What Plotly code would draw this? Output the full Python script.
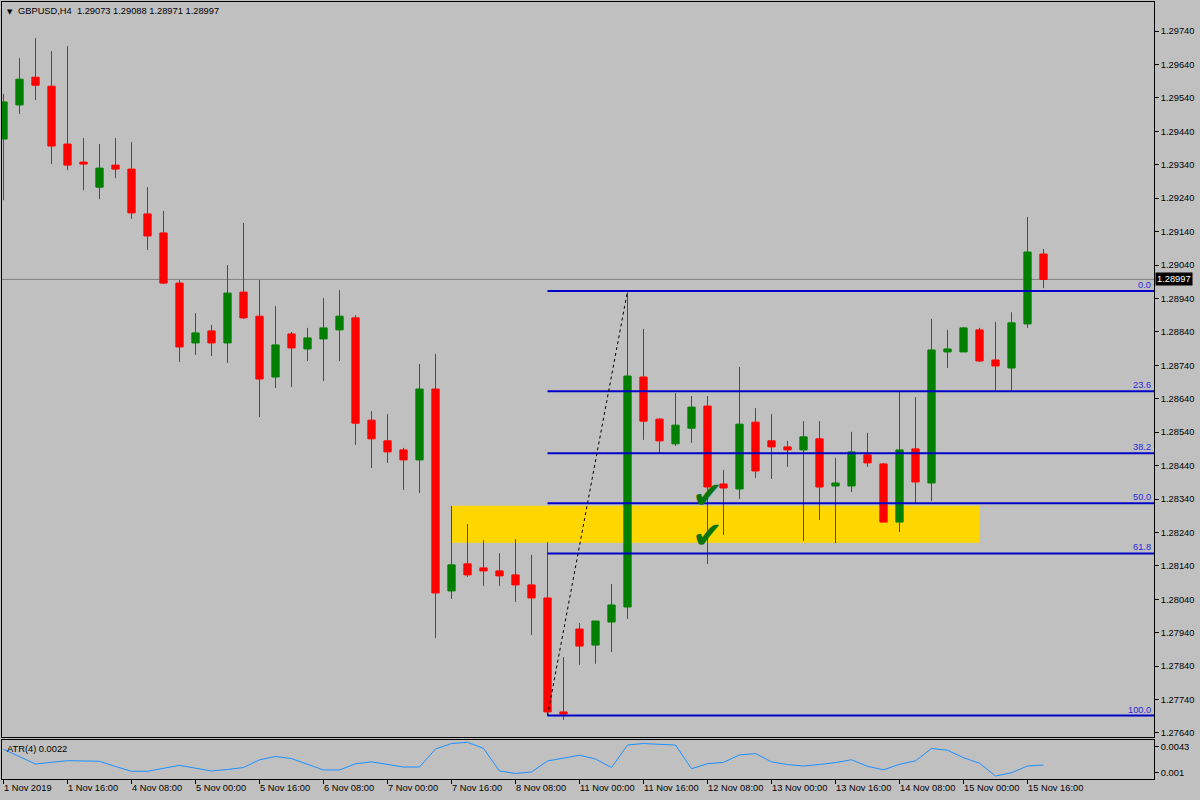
import plotly.graph_objects as go

# ---------------- data ----------------
bars = list(range(66))
opens = [1.29417, 1.29519, 1.29602, 1.29575, 1.29402, 1.29348, 1.29273, 1.29339, 1.29327, 1.29193,
         1.29136, 1.28986, 1.28807, 1.28843, 1.28807, 1.28959, 1.28887, 1.28705, 1.28834, 1.28789,
         1.28819, 1.28846, 1.28882, 1.28576, 1.28514, 1.28487, 1.28457, 1.28669, 1.28065, 1.28146,
         1.28134, 1.28125, 1.28113, 1.28083, 1.28044, 1.27703, 1.27951, 1.27903, 1.27972, 1.28017,
         1.28705, 1.28579, 1.28505, 1.28552, 1.28618, 1.28385, 1.28370, 1.28570, 1.28514, 1.28496,
         1.28487, 1.28520, 1.28379, 1.28379, 1.28472, 1.28445, 1.28271, 1.28490, 1.28388, 1.28780,
         1.28780, 1.28846, 1.28756, 1.28732, 1.28864, 1.29073]
highs = [1.29552, 1.29659, 1.29719, 1.29680, 1.29695, 1.29420, 1.29402, 1.29420, 1.29408, 1.29273,
         1.29202, 1.28995, 1.28896, 1.28861, 1.29040, 1.29166, 1.28995, 1.28917, 1.28840, 1.28852,
         1.28941, 1.28965, 1.28890, 1.28603, 1.28594, 1.28493, 1.28744, 1.28774, 1.28319, 1.28265,
         1.28217, 1.28178, 1.28220, 1.28173, 1.28211, 1.27867, 1.27969, 1.27975, 1.28086, 1.28962,
         1.28849, 1.28582, 1.28657, 1.28648, 1.28648, 1.28427, 1.28735, 1.28612, 1.28594, 1.28514,
         1.28573, 1.28573, 1.28463, 1.28541, 1.28538, 1.28448, 1.28663, 1.28645, 1.28879, 1.28846,
         1.28855, 1.28852, 1.28870, 1.28899, 1.29184, 1.29088]
lows = [1.29234, 1.29492, 1.29534, 1.29342, 1.29324, 1.29264, 1.29237, 1.29300, 1.29178, 1.29085,
        1.28983, 1.28750, 1.28771, 1.28768, 1.28747, 1.28879, 1.28585, 1.28672, 1.28675, 1.28753,
        1.28693, 1.28753, 1.28502, 1.28433, 1.28448, 1.28367, 1.28358, 1.27924, 1.28041, 1.28107,
        1.28080, 1.28080, 1.28032, 1.27933, 1.27692, 1.27679, 1.27844, 1.27847, 1.27882, 1.27981,
        1.28517, 1.28478, 1.28499, 1.28508, 1.28146, 1.28232, 1.28340, 1.28403, 1.28400, 1.28436,
        1.28214, 1.28277, 1.28208, 1.28361, 1.28436, 1.28271, 1.28241, 1.28328, 1.28334, 1.28732,
        1.28780, 1.28750, 1.28666, 1.28666, 1.28852, 1.28971]
closes = [1.29528, 1.29596, 1.29578, 1.29396, 1.29339, 1.29342, 1.29330, 1.29327, 1.29196, 1.29127,
          1.28986, 1.28795, 1.28837, 1.28807, 1.28956, 1.28882, 1.28699, 1.28801, 1.28792, 1.28822,
          1.28852, 1.28887, 1.28567, 1.28520, 1.28481, 1.28457, 1.28669, 1.28059, 1.28143, 1.28113,
          1.28125, 1.28110, 1.28083, 1.28044, 1.27703, 1.27697, 1.27900, 1.27975, 1.28023, 1.28708,
          1.28573, 1.28514, 1.28561, 1.28615, 1.28376, 1.28373, 1.28564, 1.28424, 1.28496, 1.28487,
          1.28526, 1.28376, 1.28388, 1.28481, 1.28448, 1.28271, 1.28487, 1.28391, 1.28786, 1.28789,
          1.28852, 1.28753, 1.28738, 1.28867, 1.29079, 1.28997]
atr = [0.00397, 0.00300, 0.00207, 0.00229, 0.00250, 0.00246, 0.00242, 0.00175, 0.00113, 0.00113,
       0.00149, 0.00190, 0.00153, 0.00117, 0.00136, 0.00162, 0.00261, 0.00304, 0.00277, 0.00207,
       0.00130, 0.00130, 0.00210, 0.00235, 0.00201, 0.00168, 0.00168, 0.00400, 0.00471, 0.00487,
       0.00409, 0.00117, 0.00085, 0.00104, 0.00246, 0.00280, 0.00320, 0.00271, 0.00162, 0.00452,
       0.00471, 0.00460, 0.00452, 0.00146, 0.00211, 0.00228, 0.00324, 0.00341, 0.00235, 0.00199,
       0.00181, 0.00201, 0.00225, 0.00262, 0.00177, 0.00132, 0.00203, 0.00248, 0.00407, 0.00384,
       0.00288, 0.00217, 0.00052, 0.00094, 0.00181, 0.00194]

date_label_bars = [0, 4, 8, 12, 16, 20, 24, 28, 32, 36, 40, 44, 48, 52, 56, 60, 64]
date_labels = ["1 Nov 2019", "1 Nov 16:00", "4 Nov 08:00", "5 Nov 00:00", "5 Nov 16:00",
               "6 Nov 08:00", "7 Nov 00:00", "7 Nov 16:00", "8 Nov 08:00", "11 Nov 00:00",
               "11 Nov 16:00", "12 Nov 08:00", "13 Nov 00:00", "13 Nov 16:00", "14 Nov 08:00",
               "15 Nov 00:00", "15 Nov 16:00"]
price_ticks = [1.27640, 1.27740, 1.27840, 1.27940, 1.28040, 1.28140, 1.28240, 1.28340,
               1.28440, 1.28540, 1.28640, 1.28740, 1.28840, 1.28940, 1.29040, 1.29140,
               1.29240, 1.29340, 1.29440, 1.29540, 1.29640, 1.29740]
atr_ticks = [0.001, 0.0043]
atr_tick_text = ["0.001", "0.0043"]

fib_levels = [0.0, 23.6, 38.2, 50.0, 61.8, 100.0]
fib_high = 1.28962
fib_low = 1.27692
fib_start_bar = 34
fib_high_bar = 39
zone_top = 1.28320
zone_bottom = 1.28209
zone_start_bar = 28
zone_end_bar = 61
check_bar = 44
check_prices = [1.28350, 1.28230]
last_price = 1.28997
symbol_title = "GBPUSD,H4\u00a0\u00a01.29073 1.29088 1.28971 1.28997"
atr_title = "ATR(4) 0.0022"

# ---------------- style ----------------
BG = "#c0c0c0"
GREEN = "#008000"
RED = "#ff0000"
FIB_BLUE = "#0000c8"
FONT = "Liberation Sans"
FS = 9.3
X_MIN, X_MAX = -0.094, 71.906

fig = go.Figure()
fig.add_trace(go.Candlestick(
    x=bars, open=opens, high=highs, low=lows, close=closes,
    increasing=dict(line=dict(color=GREEN, width=1), fillcolor=GREEN),
    decreasing=dict(line=dict(color=RED, width=1), fillcolor=RED),
    whiskerwidth=0, xaxis="x", yaxis="y", showlegend=False, hoverinfo="skip"))
fig.add_trace(go.Scatter(
    x=bars, y=atr, mode="lines", line=dict(color="#1e90ff", width=1),
    xaxis="x2", yaxis="y2", showlegend=False, hoverinfo="skip"))

shapes = []
# current price line
shapes.append(dict(type="line", xref="paper", yref="y", x0=0, x1=1,
                   y0=last_price, y1=last_price, line=dict(color="#808080", width=1),
                   layer="below"))
# yellow zone
shapes.append(dict(type="rect", xref="x", yref="y", x0=zone_start_bar, x1=zone_end_bar,
                   y0=zone_bottom, y1=zone_top, fillcolor="#ffd700",
                   line=dict(width=0), layer="below"))
# fib levels
annotations = []
for lvl in fib_levels:
    p = fib_high - lvl / 100.0 * (fib_high - fib_low)
    shapes.append(dict(type="line", xref="x", yref="y", x0=fib_start_bar, x1=X_MAX,
                       y0=p, y1=p, line=dict(color=FIB_BLUE, width=2), layer="above"))
    annotations.append(dict(xref="paper", yref="y", x=1, y=p, xanchor="right",
                            yanchor="bottom", xshift=-1, yshift=-1, showarrow=False,
                            text=f"{lvl:.1f}",
                            font=dict(family=FONT, size=FS, color="#2828dc")))
# dotted trend line
shapes.append(dict(type="line", xref="x", yref="y", x0=fib_start_bar, y0=fib_low,
                   x1=fib_high_bar, y1=fib_high,
                   line=dict(color="black", width=1, dash="dot"), layer="above"))

# check marks
for cp in check_prices:
    annotations.append(dict(xref="x", yref="y", x=check_bar, y=cp, text="\u2714",
                            showarrow=False, font=dict(family="DejaVu Sans", size=37,
                                                       color="#0a760a")))
# current price box
annotations.append(dict(xref="paper", yref="y", x=1, y=last_price, xanchor="left",
                        xshift=1, showarrow=False, text=f"{last_price:.5f}",
                        bgcolor="black", borderpad=1,
                        font=dict(family=FONT, size=FS, color="white")))
# titles
annotations.append(dict(xref="paper", yref="paper", x=0, y=1, xanchor="left",
                        yanchor="top", xshift=3, yshift=-4, showarrow=False, text="\u25bc",
                        font=dict(family="DejaVu Sans", size=7, color="black")))
annotations.append(dict(xref="paper", yref="paper", x=0, y=1, xanchor="left",
                        yanchor="top", xshift=14, yshift=-2, showarrow=False,
                        text=symbol_title, font=dict(family=FONT, size=FS, color="black")))
annotations.append(dict(xref="paper", yref="y2 domain", x=0, y=1, xanchor="left",
                        yanchor="top", xshift=3, yshift=-2, showarrow=False,
                        text=atr_title, font=dict(family=FONT, size=FS, color="black")))
# date labels
for b, lab in zip(date_label_bars, date_labels):
    annotations.append(dict(xref="x2", yref="paper", x=b, y=0, xanchor="left",
                            yanchor="top", xshift=-2, yshift=-2, showarrow=False,
                            text=lab, font=dict(family=FONT, size=FS, color="black")))

axis_common = dict(showgrid=False, zeroline=False, showline=True, mirror=True,
                   linecolor="black", linewidth=1)

fig.update_layout(
    width=1200, height=800,
    margin=dict(l=2, r=46, t=2, b=21),
    paper_bgcolor=BG, plot_bgcolor=BG,
    boxgap=0.35,
    showlegend=False,
    xaxis=dict(domain=[0, 1], range=[X_MIN, X_MAX], anchor="y", showticklabels=False,
               ticks="", rangeslider=dict(visible=False), **axis_common),
    yaxis=dict(domain=[0.05405, 1], range=[1.27628, 1.29827], anchor="x", side="right",
               tickvals=price_ticks, ticktext=[f"{t:.5f}" for t in price_ticks],
               ticks="outside", ticklen=4, tickcolor="black",
               tickfont=dict(family=FONT, size=FS, color="black"), **axis_common),
    xaxis2=dict(domain=[0, 1], range=[X_MIN, X_MAX], anchor="y2", tickvals=date_label_bars,
                showticklabels=False, ticks="outside", ticklen=4, tickcolor="black",
                **axis_common),
    yaxis2=dict(domain=[0, 0.05019], range=[0.000136, 0.005164], anchor="x2", side="right",
                tickvals=atr_ticks, ticktext=atr_tick_text, ticks="outside", ticklen=4,
                tickcolor="black", tickfont=dict(family=FONT, size=FS, color="black"),
                **axis_common),
    shapes=shapes, annotations=annotations,
)

fig.write_html("out.html", config={"displayModeBar": False},
               post_script="document.body.style.margin='0';document.body.style.overflow='hidden';")
